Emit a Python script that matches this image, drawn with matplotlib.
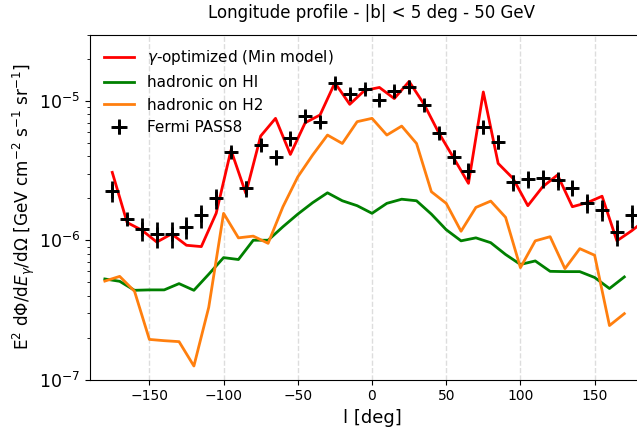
import numpy as np
import matplotlib
matplotlib.use("Agg")
import matplotlib.pyplot as plt

# Fermi data (bin centres)
l_data = [-175, -165, -155, -145, -135, -125, -115, -105, -95, -85, -75, -65, -55, -45, -35, -25,
          -15, -5, 5, 15, 25, 35, 45, 55, 65, 75, 85, 95, 105, 115, 125, 135, 145, 155, 165, 175]
flux_data = [2.26e-6, 1.42e-6, 1.21e-6, 1.11e-6, 1.11e-6, 1.25e-6, 1.51e-6, 2.01e-6, 4.31e-6, 2.36e-6,
             4.82e-6, 3.94e-6, 5.38e-6, 7.84e-6, 7.10e-6, 1.355e-5, 1.12e-5, 1.21e-5, 1.02e-5, 1.17e-5,
             1.26e-5, 9.35e-6, 5.91e-6, 3.98e-6, 3.16e-6, 6.47e-6, 5.10e-6, 2.60e-6, 2.75e-6, 2.78e-6,
             2.70e-6, 2.39e-6, 1.86e-6, 1.66e-6, 1.15e-6, 1.51e-6]
rel_err = [0.17, 0.09, 0.19, 0.21, 0.21, 0.18, 0.19, 0.16, 0.08, 0.13, 0.10, 0.12, 0.12, 0.09, 0.09, 0.07,
           0.09, 0.07, 0.09, 0.09, 0.08, 0.08, 0.09, 0.11, 0.13, 0.11, 0.11, 0.13, 0.14, 0.14,
           0.15, 0.13, 0.15, 0.17, 0.21, 0.19]

# gamma-optimized model
l_model = [-175, -165, -155, -145, -135, -125, -115, -105, -95, -85, -75, -65, -55, -45, -35, -25,
           -15, -5, 5, 15, 25, 35, 45, 55, 65, 75, 85, 95, 105, 115, 125, 135, 145, 155, 165, 175, 185]
flux_model = [3.07e-6, 1.34e-6, 1.18e-6, 0.97e-6, 1.11e-6, 0.92e-6, 0.90e-6, 1.56e-6, 4.44e-6, 2.17e-6,
              5.6e-6, 7.5e-6, 4.13e-6, 6.98e-6, 7.93e-6, 1.35e-5, 9.46e-6, 1.19e-5, 1.25e-5, 1.04e-5,
              1.38e-5, 9.5e-6, 5.9e-6, 3.9e-6, 2.56e-6, 1.16e-5, 3.56e-6, 2.78e-6, 1.77e-6, 2.42e-6,
              2.94e-6, 1.74e-6, 1.86e-6, 2.07e-6, 0.99e-6, 1.17e-6, 1.42e-6]

# hadronic components
l_had = [-180, -170, -160, -150, -140, -130, -120, -110, -100, -90, -80, -70, -60, -50, -40, -30,
         -20, -10, 0, 10, 20, 30, 40, 50, 60, 70, 80, 90, 100, 110, 120, 130, 140, 150, 160, 170]
flux_HI = [5.27e-7, 5.07e-7, 4.37e-7, 4.4e-7, 4.4e-7, 4.88e-7, 4.37e-7, 5.7e-7, 7.5e-7, 7.27e-7,
           1.0e-6, 1.0e-6, 1.25e-6, 1.54e-6, 1.86e-6, 2.19e-6, 1.92e-6, 1.77e-6, 1.56e-6, 1.84e-6,
           1.97e-6, 1.92e-6, 1.54e-6, 1.19e-6, 0.99e-6, 1.04e-6, 0.96e-6, 7.9e-7, 6.7e-7, 7.1e-7,
           5.98e-7, 5.95e-7, 5.95e-7, 5.4e-7, 4.5e-7, 5.45e-7]
flux_H2 = [5.09e-7, 5.5e-7, 4.3e-7, 1.94e-7, 1.9e-7, 1.87e-7, 1.25e-7, 3.3e-7, 1.56e-6, 1.04e-6,
           1.07e-6, 0.95e-6, 1.74e-6, 2.85e-6, 4.09e-6, 5.69e-6, 4.95e-6, 7.1e-6, 7.5e-6, 5.69e-6,
           6.6e-6, 4.95e-6, 2.23e-6, 1.84e-6, 1.16e-6, 1.72e-6, 1.91e-6, 1.46e-6, 6.35e-7, 0.99e-6,
           1.06e-6, 6.25e-7, 8.7e-7, 7.8e-7, 2.44e-7, 2.97e-7]

x_ticks = [-150, -100, -50, 0, 50, 100, 150]

fig = plt.figure(figsize=(6.37, 4.32), dpi=100)
ax = fig.add_axes([90/637, 1 - 379.5/432, (654 - 90)/637, (379.5 - 34.5)/432])

ax.grid(axis='x', ls='--', color='#dddddd', lw=1.0, zorder=0)

l1, = ax.plot(l_model, flux_model, color='red', lw=2, zorder=3)
l2, = ax.plot(l_had, flux_HI, color='green', lw=2, zorder=2)
l3, = ax.plot(l_had, flux_H2, color='#ff7f0e', lw=2, zorder=2)
yerr = np.array(flux_data) * np.array(rel_err)
eb = ax.errorbar(l_data, flux_data, xerr=4, yerr=yerr, fmt='+', color='black',
                 ms=10, mew=2, elinewidth=2, zorder=4)

ax.set_yscale('log')
ax.set_xlim(-190, 190)
ax.set_ylim(1e-7, 3e-5)
ax.set_xticks(x_ticks)
ax.tick_params(axis='x', labelsize=10)
ax.tick_params(axis='y', labelsize=12.5)

ax.set_xlabel('l [deg]', fontsize=13)
ax.set_ylabel(r'E$^2$ d$\Phi$/d$E_\gamma$/d$\Omega$ [GeV cm$^{-2}$ s$^{-1}$ sr$^{-1}$]',
              fontsize=12.2, labelpad=1)
ax.set_title('Longitude profile - |b| < 5 deg - 50 GeV', fontsize=12, pad=12)

ax.legend([l1, l2, l3, eb],
          [r'$\gamma$-optimized (Min model)', 'hadronic on HI', 'hadronic on H2', 'Fermi PASS8'],
          loc='upper left', frameon=False, fontsize=11)

fig.savefig('out.png', dpi=100)
